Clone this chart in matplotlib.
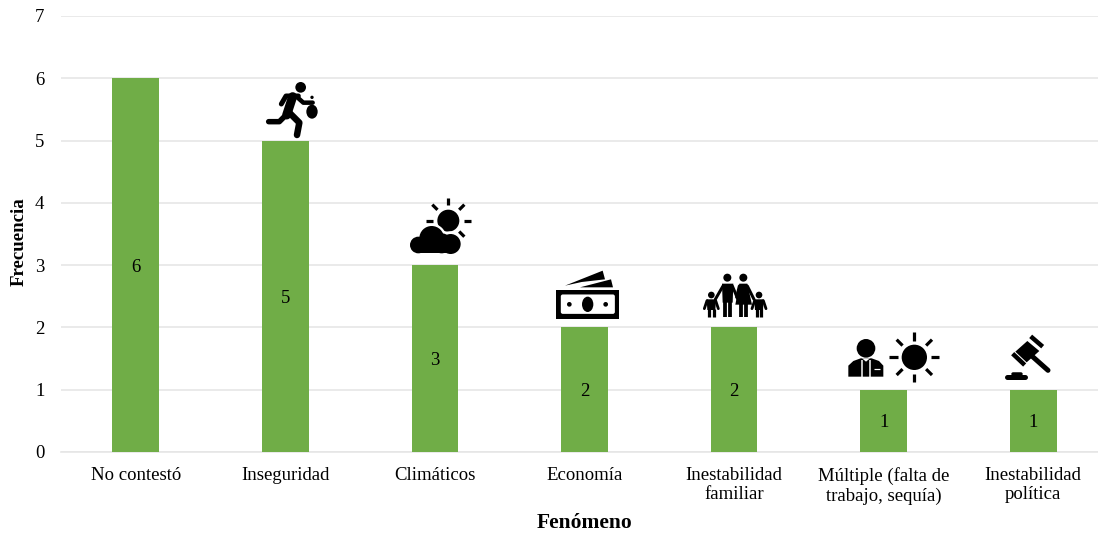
# plot.py
# Frecuencia por fenómeno: bars with pictograms above them

import numpy as np
import matplotlib
matplotlib.use('Agg')
import matplotlib.pyplot as plt
from matplotlib.patches import Circle, Ellipse, Polygon, Rectangle, FancyBboxPatch

categories = ['No contestó', 'Inseguridad', 'Climáticos', 'Economía',
              'Inestabilidad\nfamiliar', 'Múltiple (falta de\ntrabajo, sequía)',
              'Inestabilidad\npolítica']
values = [6, 5, 3, 2, 2, 1, 1]
y_ticks = [0, 1, 2, 3, 4, 5, 6, 7]

BAR_COLOR = '#70AD47'
GRID_COLOR = '#E6E6E6'
W, H = 1098, 533

plt.rcParams['font.family'] = ['Liberation Serif', 'DejaVu Serif']

fig = plt.figure(figsize=(W / 100, H / 100), dpi=100)
fig.patch.set_facecolor('white')

# the plot area runs a little past the right edge of the picture
ax = fig.add_axes([61 / W, 1 - 452 / H, 1047 / W, 436 / H])
ax.bar(range(len(values)), values, width=0.312, color=BAR_COLOR, zorder=3)
ax.set_xlim(-0.5, 6.5)
ax.set_ylim(0, 7)
ax.set_yticks(y_ticks)
ax.set_xticks(range(len(categories)))
ax.set_xticklabels(categories, fontsize=13.5, linespacing=1.17)
ax.tick_params(axis='both', length=0, labelsize=13.5, colors='black')
ax.tick_params(axis='x', pad=11)
ax.tick_params(axis='y', pad=12)
ax.grid(axis='y', color=GRID_COLOR, linewidth=1.2, zorder=0)
ax.set_axisbelow(True)
for name, spine in ax.spines.items():
    spine.set_visible(name == 'bottom')
ax.spines['bottom'].set_color(GRID_COLOR)
ax.spines['bottom'].set_linewidth(1.2)

for container in ax.containers:
    ax.bar_label(container, label_type='center', fontsize=13.5, color='black', padding=-1.5)

fig.text(19 / W, 1 - 242 / H, 'Frecuencia', rotation=90, ha='center', va='center',
         fontsize=13.6, fontweight='bold')
fig.text(585 / W, 1 - 523 / H, 'Fenómeno', ha='center', va='center',
         fontsize=15.5, fontweight='bold')

# ── Pictograms, drawn on an overlay in picture pixels ─────────────────────────
ov = fig.add_axes([0, 0, 1, 1], zorder=5)
ov.set_xlim(0, W)
ov.set_ylim(H, 0)
ov.axis('off')
ov.patch.set_alpha(0)


def line(ox, oy, pts, lw, color='black', cap='round'):
    # pts are in 3x zoom coords, lw in picture pixels
    xs = [ox + p[0] / 3 for p in pts]
    ys = [oy + p[1] / 3 for p in pts]
    ov.plot(xs, ys, color=color, lw=lw * 0.72, solid_capstyle=cap, solid_joinstyle='round')


def circle(ox, oy, cx, cy, r, color='black'):
    ov.add_patch(Circle((ox + cx / 3, oy + cy / 3), r / 3, fc=color, ec='none'))


def ellipse(ox, oy, cx, cy, rx, ry, color='black'):
    ov.add_patch(Ellipse((ox + cx / 3, oy + cy / 3), 2 * rx / 3, 2 * ry / 3, fc=color, ec='none'))


def poly(ox, oy, pts, color='black'):
    ov.add_patch(Polygon([(ox + p[0] / 3, oy + p[1] / 3) for p in pts], fc=color, ec='none'))


def rays(ox, oy, cx, cy, r0, r1, lw):
    for a in np.deg2rad(np.arange(0, 360, 45)):
        line(ox, oy, [(cx + r0 * np.cos(a), cy + r0 * np.sin(a)),
                      (cx + r1 * np.cos(a), cy + r1 * np.sin(a))], lw, cap='butt')


# runner with bag
ox, oy = 240, 70
circle(ox, oy, 182, 52, 16)
line(ox, oy, [(124, 102), (138, 78), (175, 78)], 5)
line(ox, oy, [(158, 80), (140, 135)], 9)
line(ox, oy, [(172, 82), (190, 98), (218, 98)], 4.5)
line(ox, oy, [(135, 138), (118, 155), (86, 155)], 5.5)
line(ox, oy, [(145, 125), (178, 158), (171, 195)], 6.5)
ellipse(ox, oy, 216, 125, 17, 21)
circle(ox, oy, 216, 82, 5)

# sun behind a cloud
rays(ox, oy, 625, 452, 46, 68, 3.2)
circle(ox, oy, 625, 452, 33)
for cx, cy, r in [(575, 505, 44), (632, 522, 38), (535, 525, 32)]:
    circle(ox, oy, cx, cy, r, 'white')
circle(ox, oy, 575, 505, 37)
circle(ox, oy, 535, 525, 25)
circle(ox, oy, 632, 522, 30)
circle(ox, oy, 605, 520, 30)
poly(ox, oy, [(535, 510), (632, 510), (632, 550), (535, 550)])

# banknotes
ox, oy = 540, 260
poly(ox, oy, [(75, 77), (188, 32), (195, 58), (125, 66)])
poly(ox, oy, [(120, 82), (213, 58), (219, 82)])
ov.add_patch(Rectangle((ox + 47 / 3, oy + 90 / 3), 191 / 3, 87 / 3, fc='black', ec='none'))
ov.add_patch(FancyBboxPatch((ox + 66 / 3, oy + 107 / 3), 155 / 3, 51 / 3,
                            boxstyle='round,pad=1.2,rounding_size=2', fc='white', ec='none'))
ellipse(ox, oy, 143, 133, 17, 23)
circle(ox, oy, 88, 133, 7)
circle(ox, oy, 197, 133, 7)

# family
circle(ox, oy, 562, 53, 12)
circle(ox, oy, 610, 53, 12)
circle(ox, oy, 514, 105, 10)
circle(ox, oy, 657, 105, 10)
poly(ox, oy, [(546, 71), (580, 71), (578, 128), (548, 128)])
line(ox, oy, [(555, 125), (555, 172)], 3.8, cap='butt')
line(ox, oy, [(571, 125), (571, 172)], 3.8, cap='butt')
line(ox, oy, [(549, 78), (526, 118)], 3)
line(ox, oy, [(577, 78), (594, 118)], 3)
poly(ox, oy, [(598, 71), (622, 71), (636, 134), (586, 134)])
line(ox, oy, [(602, 130), (602, 172)], 3.8, cap='butt')
line(ox, oy, [(619, 130), (619, 172)], 3.8, cap='butt')
line(ox, oy, [(598, 78), (590, 112)], 3)
line(ox, oy, [(622, 78), (642, 118)], 3)
for cx in (514, 657):
    poly(ox, oy, [(cx - 14, 118), (cx + 14, 118), (cx + 12, 150), (cx - 12, 150)])
    line(ox, oy, [(cx - 7, 148), (cx - 7, 172)], 3.2, cap='butt')
    line(ox, oy, [(cx + 7, 148), (cx + 7, 172)], 3.2, cap='butt')
    line(ox, oy, [(cx - 13, 122), (cx - 21, 146)], 2.8)
    line(ox, oy, [(cx + 13, 122), (cx + 21, 146)], 2.8)

# person in a suit and sun
ox, oy = 830, 325
circle(ox, oy, 108, 70, 28)
poly(ox, oy, [(55, 155), (55, 122), (70, 108), (92, 100), (125, 100), (147, 108), (160, 122), (160, 155)])
poly(ox, oy, [(96, 100), (120, 100), (108, 110)], 'white')
line(ox, oy, [(97, 106), (97, 155)], 1.5, 'white', cap='butt')
line(ox, oy, [(119, 106), (119, 155)], 1.5, 'white', cap='butt')
line(ox, oy, [(133, 133), (150, 133)], 1.2, 'white', cap='butt')
rays(ox, oy, 253, 97, 50, 75, 3.2)
circle(ox, oy, 253, 97, 38)

# gavel
poly(ox, oy, [(592, 48), (628, 78), (590, 112), (556, 80)])
line(ox, oy, [(602, 34), (638, 65)], 4.5, cap='butt')
line(ox, oy, [(548, 86), (584, 120)], 4.5, cap='butt')
line(ox, oy, [(600, 88), (654, 136)], 5)
line(ox, oy, [(532, 157), (586, 157)], 5)
line(ox, oy, [(548, 148), (572, 148)], 3.5)

fig.savefig('out.png', dpi=100, facecolor='white')
plt.close(fig)
